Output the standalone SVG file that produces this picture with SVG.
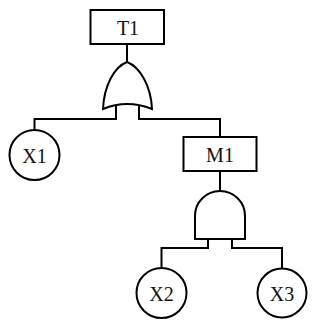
<svg xmlns="http://www.w3.org/2000/svg" width="315" height="327" viewBox="0 0 315 327">
<style>
.n{fill:#fff;stroke:#000;stroke-width:2}
.c{fill:none;stroke:#000;stroke-width:2}
text{font-family:"Liberation Serif","Times New Roman",serif;font-size:20px;fill:#111;text-anchor:middle;dominant-baseline:central}
</style>
<rect width="315" height="327" fill="#fff"/>
<g id="connectors">
<path class="c" d="M127,44V62"/>
<path class="c" d="M116,106V119H34.5V130"/>
<path class="c" d="M139,106V119H220V137"/>
<path class="c" d="M220,171V191"/>
<path class="c" d="M208,239V248H161.5V268"/>
<path class="c" d="M232,239V248H282V268"/>
</g>
<g id="T1"><rect class="n" x="90.5" y="10" width="73.5" height="34"/><text x="128" y="27.5">T1</text></g>
<g id="OR1"><path class="n" d="M127,62C114,67 104,86 103,109Q127,99 152,109C151,86 140,67 127,62Z"/></g>
<g id="X1"><circle class="n" cx="34.5" cy="155" r="25"/><text x="34.5" y="155.5">X1</text></g>
<g id="M1"><rect class="n" x="183.5" y="137" width="73" height="34"/><text x="220" y="154.5">M1</text></g>
<g id="AND1"><path class="n" d="M195,239V216A25,25 0 0 1 245,216V239Z"/></g>
<g id="X2"><circle class="n" cx="161.5" cy="293" r="25"/><text x="161.5" y="293.5">X2</text></g>
<g id="X3"><circle class="n" cx="282" cy="293" r="24.5"/><text x="282" y="293.5">X3</text></g>
</svg>
